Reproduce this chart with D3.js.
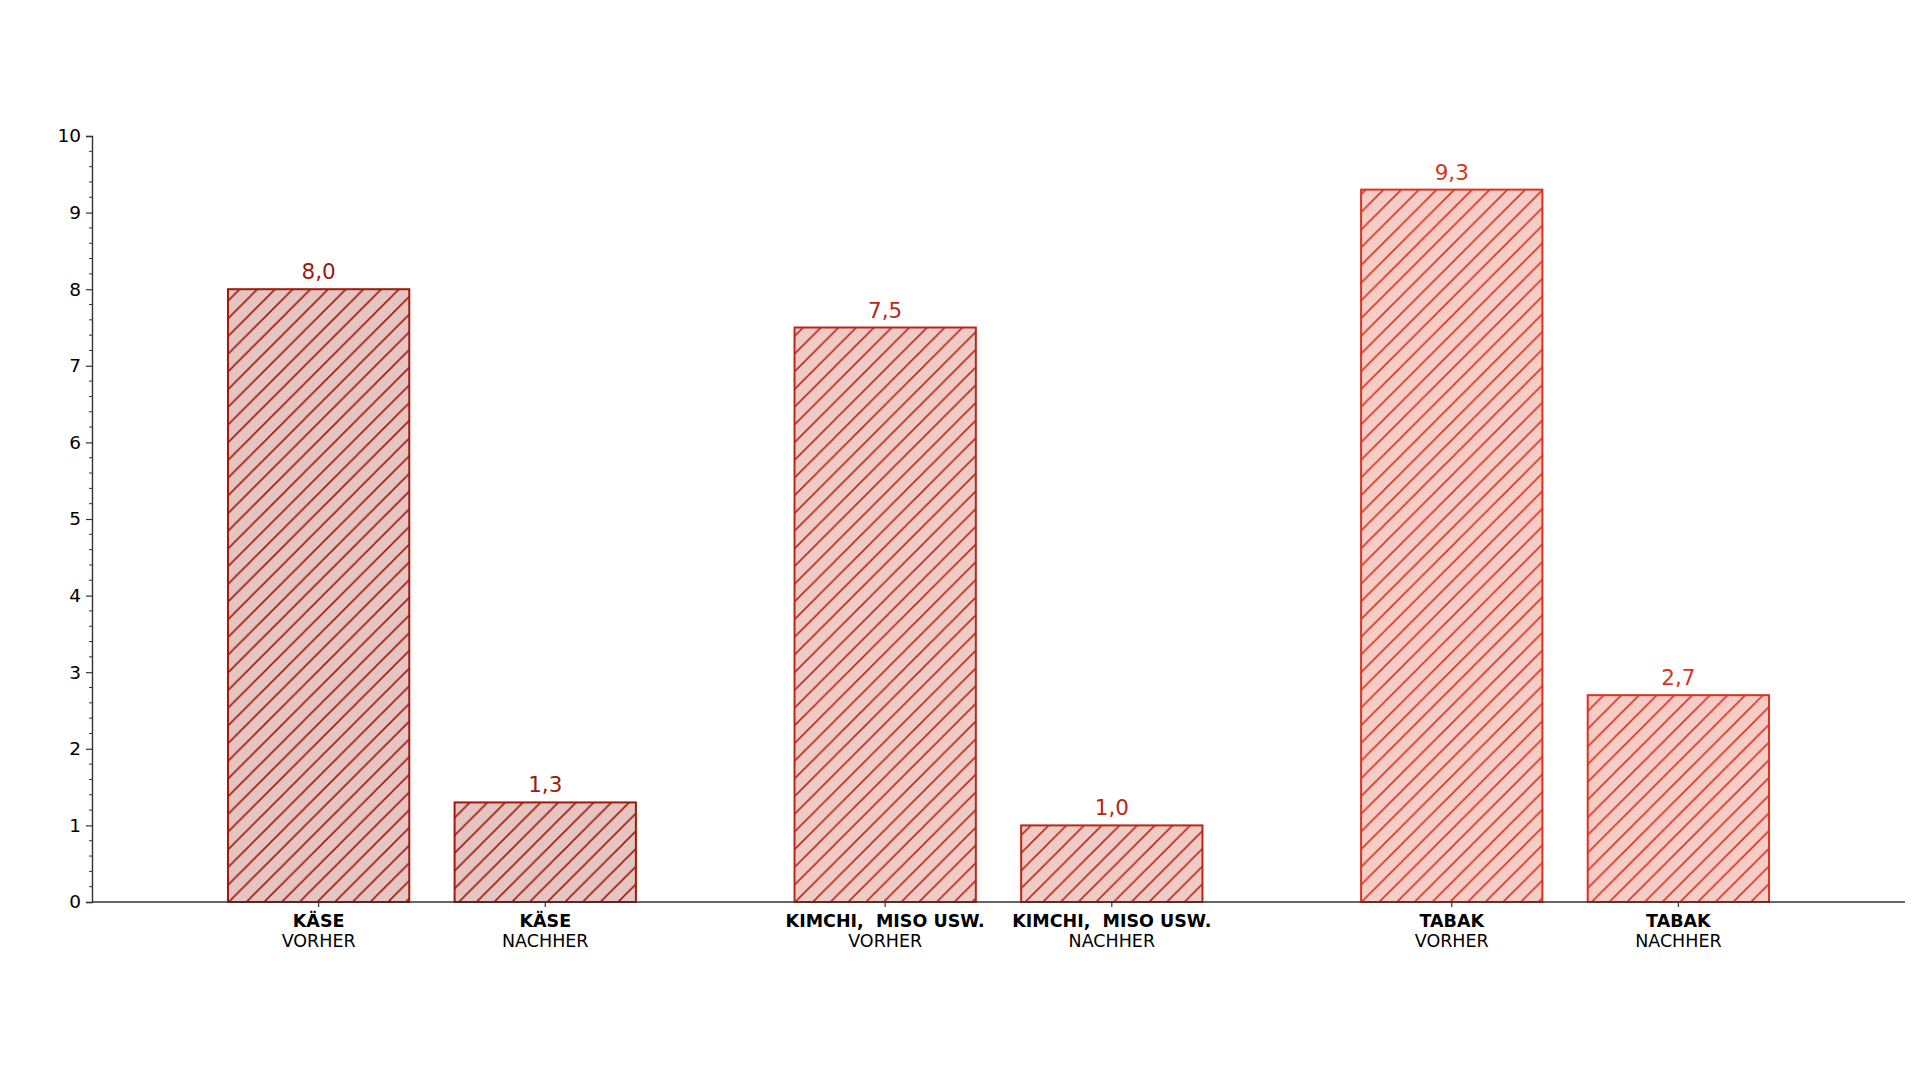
<!DOCTYPE html>
<html>
<head>
<meta charset="utf-8">
<script src="https://cdn.jsdelivr.net/npm/d3@7"></script>
<style>
  body { margin: 0; background: #fff; }
  text { font-family: "DejaVu Sans", sans-serif; }
</style>
</head>
<body>
<div id="chart"></div>
<script>
var groups = ["KÄSE", "KIMCHI,  MISO USW.", "TABAK"];
var phases = ["VORHER", "NACHHER"];
var values = [[8.0, 1.3], [7.5, 1.0], [9.3, 2.7]];
var yTicks = [0, 1, 2, 3, 4, 5, 6, 7, 8, 9, 10];
var strokeColors = ["#a0190c", "#b8281a", "#d83422"];
var fillColors = ["#e6c4c2", "#f0cbc6", "#f6ccc6"];

var data = [];
groups.forEach(function (g, gi) {
  phases.forEach(function (p, pi) {
    data.push({group: g, phase: p, value: values[gi][pi], gi: gi});
  });
});

var w = 1920, h = 1080;
var margin = {top: 136, right: 15, bottom: 178, left: 92};
var width = w - margin.left - margin.right;
var height = h - margin.top - margin.bottom;

var svg = d3.select("#chart").append("svg")
  .attr("width", w)
  .attr("height", h);

var defs = svg.append("defs");
var s = 17.7;
strokeColors.forEach(function (c, i) {
  defs.append("pattern")
    .attr("id", "hatch" + i)
    .attr("patternUnits", "userSpaceOnUse")
    .attr("width", s)
    .attr("height", s)
    .append("path")
    .attr("d", "M0," + s + " l" + s + "," + (-s) +
               " M" + (-s / 4) + "," + (s / 4) + " l" + (s / 2) + "," + (-s / 2) +
               " M" + (3 * s / 4) + "," + (5 * s / 4) + " l" + (s / 2) + "," + (-s / 2))
    .attr("stroke", c)
    .attr("stroke-width", 1.6)
    .attr("stroke-linecap", "square");
});

var g = svg.append("g")
  .attr("transform", "translate(" + margin.left + "," + margin.top + ")");

var x0 = d3.scaleBand()
  .domain(groups)
  .range([0, width])
  .paddingInner(0.2)
  .paddingOuter(0.2);

var x1 = d3.scaleBand()
  .domain(phases)
  .range([0, x0.bandwidth()])
  .paddingInner(0.2)
  .paddingOuter(0.1);

var y = d3.scaleLinear().domain([0, 10]).range([height, 0]);

// bars
var bar = g.selectAll(".bar").data(data).enter().append("g")
  .attr("class", "bar");

bar.append("rect")
  .attr("x", function (d) { return x0(d.group) + x1(d.phase); })
  .attr("y", function (d) { return y(d.value); })
  .attr("width", x1.bandwidth())
  .attr("height", function (d) { return y(0) - y(d.value); })
  .attr("fill", function (d) { return fillColors[d.gi]; });

bar.append("rect")
  .attr("x", function (d) { return x0(d.group) + x1(d.phase); })
  .attr("y", function (d) { return y(d.value); })
  .attr("width", x1.bandwidth())
  .attr("height", function (d) { return y(0) - y(d.value); })
  .attr("fill", function (d) { return "url(#hatch" + d.gi + ")"; })
  .attr("stroke", function (d) { return strokeColors[d.gi]; })
  .attr("stroke-width", 2);

bar.append("text")
  .attr("x", function (d) { return x0(d.group) + x1(d.phase) + x1.bandwidth() / 2; })
  .attr("y", function (d) { return y(d.value) - 10; })
  .attr("text-anchor", "middle")
  .attr("font-size", 21.5)
  .attr("fill", function (d) { return strokeColors[d.gi]; })
  .text(function (d) { return d3.format(".1f")(d.value).replace(".", ","); });

// y axis
var yAxis = g.append("g")
  .call(d3.axisLeft(y).tickValues(yTicks).tickSize(6).tickPadding(5).tickFormat(d3.format("d")));
yAxis.select(".domain").attr("stroke", "#333").attr("stroke-width", 1.4);
yAxis.selectAll(".tick line").attr("stroke", "#333").attr("stroke-width", 1.2);
yAxis.selectAll(".tick text").attr("font-size", 18.5).attr("fill", "#000")
  .style("font-family", "DejaVu Sans");

var minor = d3.range(0, 10.001, 0.2).filter(function (v) { return Math.abs(v - Math.round(v)) > 0.01; });
g.append("g").selectAll("line").data(minor).enter().append("line")
  .attr("x1", -3).attr("x2", 0)
  .attr("y1", function (d) { return y(d); })
  .attr("y2", function (d) { return y(d); })
  .attr("stroke", "#333")
  .attr("stroke-width", 1);

// x axis
var xa = g.append("g").attr("transform", "translate(0," + height + ")");
xa.append("line")
  .attr("x1", 0).attr("x2", width)
  .attr("stroke", "#333").attr("stroke-width", 1.6);

var xt = xa.selectAll(".xt").data(data).enter().append("g")
  .attr("class", "xt")
  .attr("transform", function (d) { return "translate(" + (x0(d.group) + x1(d.phase) + x1.bandwidth() / 2) + ",0)"; });
xt.append("line").attr("y2", 5).attr("stroke", "#333").attr("stroke-width", 1.2);
xt.append("text")
  .attr("y", 25)
  .attr("text-anchor", "middle")
  .attr("font-size", 17.5)
  .attr("font-weight", "bold")
  .style("white-space", "pre")
  .text(function (d) { return d.group; });
xt.append("text")
  .attr("y", 44.5)
  .attr("text-anchor", "middle")
  .attr("font-size", 17.5)
  .text(function (d) { return d.phase; });
</script>
</body>
</html>
